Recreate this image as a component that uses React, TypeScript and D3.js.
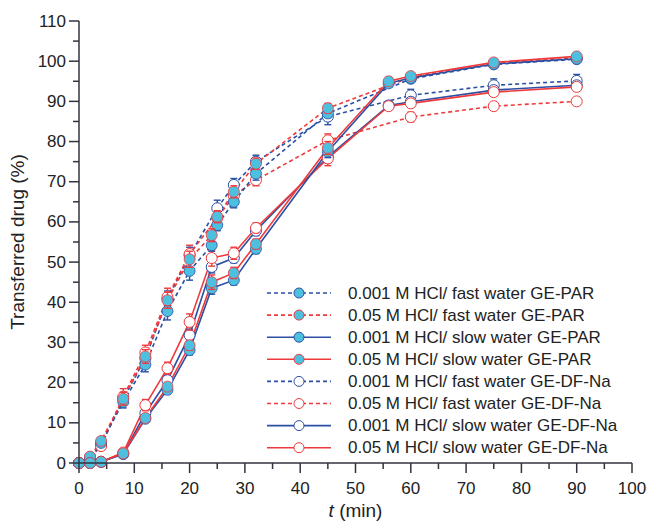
import React from 'react';
import * as d3 from 'd3';

// sampling times (min)
const tFastPar = [0, 2, 4, 8, 12, 16, 20, 24, 25, 28, 32, 45, 60, 75, 90];
const tFastDf = [0, 2, 4, 8, 12, 16, 20, 25, 28, 32, 45, 60, 75, 90];
const tSlow = [0, 2, 4, 8, 12, 16, 20, 24, 28, 32, 45, 56, 60, 75, 90];

// transferred drug (%)
const fastPar001 = [0, 1.2, 5, 15.2, 24.5, 37.8, 47.8, 54.2, 59.2, 65, 72, 87, 95.6, 99.2, 100.5];
const fastPar005 = [0, 1.6, 5.5, 16, 26.5, 40.5, 50.7, 56.7, 61.3, 67.5, 74.5, 88.3, 96, 99.5, 100.8];
const slowPar001 = [0, 0, 0.3, 2.2, 11, 18.2, 28.1, 43.5, 45.5, 53.3, 77.5, 94.5, 95.8, 99.3, 100.6];
const slowPar005 = [0, 0, 0.3, 2.4, 11.2, 19, 29.3, 45, 47.3, 54.5, 78.4, 95, 96.3, 99.7, 101.2];
const fastDf001 = [0, 1, 4.5, 16, 26, 40.8, 51.7, 63.4, 69.2, 75, 86.2, 91.5, 94, 95.1];
const fastDf005 = [0, 1.5, 4.2, 16.5, 27.5, 41.3, 52, 61, 66.5, 70.4, 80.3, 86.1, 88.8, 90];
const slowDf001 = [0, 0, 0.3, 2.3, 12.4, 20.6, 31.8, 48.8, 51, 57.8, 76.2, 89, 89.9, 92.8, 94];
const slowDf005 = [0, 0, 0.3, 2.6, 14.4, 23.6, 35.1, 51, 52.2, 58.5, 75.8, 88.8, 89.5, 92.3, 93.6];

// standard deviations
const errFastPar001 = [0, 0.5, 0.8, 1.5, 1.8, 2.2, 2.3, 1.5, 1.4, 1.5, 1.6, 1, 0.8, 0.8];
const errFastPar005 = [0, 0.6, 0.8, 1.6, 1.7, 2, 2, 1.6, 1.5, 1.5, 1.4, 1.2, 0.8, 0.8, 0.8];
const errSlowPar001 = [0, 0, 0, 0.5, 0.8, 1, 1.2, 1.5, 1.2, 1.2, 1.5, 1, 0.8, 0.6, 0.6];
const errSlowPar005 = [0, 0, 0, 0.5, 0.8, 1, 1.2, 1.8, 1.4, 1.2, 1.6, 1, 0.8, 0.6, 0.6];
const errFastDf001 = [0, 0.5, 0.8, 1.5, 1.8, 2, 2, 2, 1.6, 1.6, 2, 1.5, 1.6, 1.6];
const errFastDf005 = [0, 0.5, 0.8, 2, 1.8, 2.2, 2.2, 1.6, 1.5, 1.4, 1.6, 1.2, 0.8, 0.8];
const errSlowDf001 = [0, 0, 0, 0.5, 1, 1.2, 1.5, 1.5, 1.2, 1.2, 1.5, 1, 1, 1, 1];
const errSlowDf005 = [0, 0, 0, 0.8, 1.4, 1.5, 2, 2, 1.5, 1.2, 1.8, 1, 1, 1, 1];

const labels = [
  '0.001 M HCl/ fast water GE-PAR',
  '0.05 M HCl/ fast water GE-PAR',
  '0.001 M HCl/ slow water GE-PAR',
  '0.05 M HCl/ slow water GE-PAR',
  '0.001 M HCl/ fast water GE-DF-Na',
  '0.05 M HCl/ fast water GE-DF-Na',
  '0.001 M HCl/ slow water GE-DF-Na',
  '0.05 M HCl/ slow water GE-DF-Na',
];

const xTicks = [0, 10, 20, 30, 40, 50, 60, 70, 80, 90, 100];
const yTicks = [0, 10, 20, 30, 40, 50, 60, 70, 80, 90, 100, 110];

const BLUE = '#2b4fa3';
const RED = '#ee3a3c';
const CYAN = '#4ec0df';
const AXIS = '#33333f';
const FONT = '"Liberation Sans", Arial, sans-serif';

const series = [
  { name: labels[0], t: tFastPar, v: fastPar001, e: errFastPar001, color: BLUE, dashed: true, filled: true },
  { name: labels[1], t: tFastPar, v: fastPar005, e: errFastPar005, color: RED, dashed: true, filled: true },
  { name: labels[2], t: tSlow, v: slowPar001, e: errSlowPar001, color: BLUE, dashed: false, filled: true },
  { name: labels[3], t: tSlow, v: slowPar005, e: errSlowPar005, color: RED, dashed: false, filled: true },
  { name: labels[4], t: tFastDf, v: fastDf001, e: errFastDf001, color: BLUE, dashed: true, filled: false },
  { name: labels[5], t: tFastDf, v: fastDf005, e: errFastDf005, color: RED, dashed: true, filled: false },
  { name: labels[6], t: tSlow, v: slowDf001, e: errSlowDf001, color: BLUE, dashed: false, filled: false },
  { name: labels[7], t: tSlow, v: slowDf005, e: errSlowDf005, color: RED, dashed: false, filled: false },
];

const W = 648;
const H = 523;

export default function App() {
  const x = d3.scaleLinear().domain([0, 100]).range([79, 632]);
  const y = d3.scaleLinear().domain([0, 110]).range([463, 21]);
  const line = d3
    .line<[number, number]>()
    .x((d) => x(d[0]))
    .y((d) => y(d[1]));

  const r = 5.5;
  const xMinor = d3.range(5, 100, 10);
  const yMinor = d3.range(5, 110, 10);

  // draw open ones first, filled on top
  const drawOrder = [4, 5, 6, 7, 0, 1, 2, 3];

  return (
    <svg width={W} height={H} style={{ position: 'absolute', left: 0, top: 0 }} fontFamily={FONT}>
      <rect width={W} height={H} fill="#fff" />

      {/* lines */}
      {drawOrder.map((i) => {
        const s = series[i];
        const pts = s.t.map((t, k) => [t, s.v[k]] as [number, number]);
        return (
          <path
            key={'l' + i}
            d={line(pts) || ''}
            fill="none"
            stroke={s.color}
            strokeWidth={1.6}
            strokeDasharray={s.dashed ? '4,3' : undefined}
          />
        );
      })}

      {/* error bars + markers */}
      {drawOrder.map((i) => {
        const s = series[i];
        return (
          <g key={'m' + i}>
            {s.t.map((t, k) => {
              const e = s.e[k] || 0;
              const cx = x(t);
              const cy = y(s.v[k]);
              return (
                <g key={k}>
                  {e > 0 && (
                    <g stroke={s.color} strokeWidth={1.4}>
                      <line x1={cx} x2={cx} y1={y(s.v[k] - e)} y2={y(s.v[k] + e)} />
                      <line x1={cx - 3.5} x2={cx + 3.5} y1={y(s.v[k] + e)} y2={y(s.v[k] + e)} />
                      <line x1={cx - 3.5} x2={cx + 3.5} y1={y(s.v[k] - e)} y2={y(s.v[k] - e)} />
                    </g>
                  )}
                  <circle
                    cx={cx}
                    cy={cy}
                    r={r}
                    fill={s.filled ? CYAN : '#fff'}
                    stroke={s.color}
                    strokeWidth={s.filled ? 0.8 : 1}
                  />
                </g>
              );
            })}
          </g>
        );
      })}

      {/* axes */}
      <g stroke={AXIS} strokeWidth={1.5}>
        <line x1={x(0)} x2={x(100)} y1={y(0)} y2={y(0)} />
        <line x1={x(0)} x2={x(0)} y1={y(0)} y2={y(110)} />
        {xTicks.map((t) => (
          <line key={'xt' + t} x1={x(t)} x2={x(t)} y1={y(0)} y2={y(0) + 10} />
        ))}
        {xMinor.map((t) => (
          <line key={'xm' + t} x1={x(t)} x2={x(t)} y1={y(0)} y2={y(0) + 6} />
        ))}
        {yTicks.map((v) => (
          <line key={'yt' + v} x1={x(0) - 10} x2={x(0)} y1={y(v)} y2={y(v)} />
        ))}
        {yMinor.map((v) => (
          <line key={'ym' + v} x1={x(0) - 6} x2={x(0)} y1={y(v)} y2={y(v)} />
        ))}
      </g>
      <g fontSize={17} fill="#222">
        {xTicks.map((t) => (
          <text key={'xl' + t} x={x(t)} y={494} textAnchor="middle">
            {t}
          </text>
        ))}
        {yTicks.map((v) => (
          <text key={'yl' + v} x={66} y={y(v)} textAnchor="end" dominantBaseline="central">
            {v}
          </text>
        ))}
      </g>
      <text
        transform={`translate(24,${(y(0) + y(110)) / 2}) rotate(-90)`}
        textAnchor="middle"
        fontSize={19}
        fill="#222"
      >
        Transferred drug (%)
      </text>
      <text x={x(50)} y={517} textAnchor="middle" fontSize={19} fill="#222">
        <tspan fontStyle="italic">t</tspan> (min)
      </text>

      {/* legend */}
      {series.map((s, i) => {
        const ly = 293 + i * 22.1;
        return (
          <g key={'lg' + i}>
            <line
              x1={267}
              x2={331}
              y1={ly}
              y2={ly}
              stroke={s.color}
              strokeWidth={1.6}
              strokeDasharray={s.dashed ? '4,3' : undefined}
            />
            <circle cx={299} cy={ly} r={5} fill={s.filled ? CYAN : '#fff'} stroke={s.color} strokeWidth={1} />
            <text x={348} y={ly} dominantBaseline="central" fontSize={17} fill="#222">
              {s.name}
            </text>
          </g>
        );
      })}
    </svg>
  );
}
